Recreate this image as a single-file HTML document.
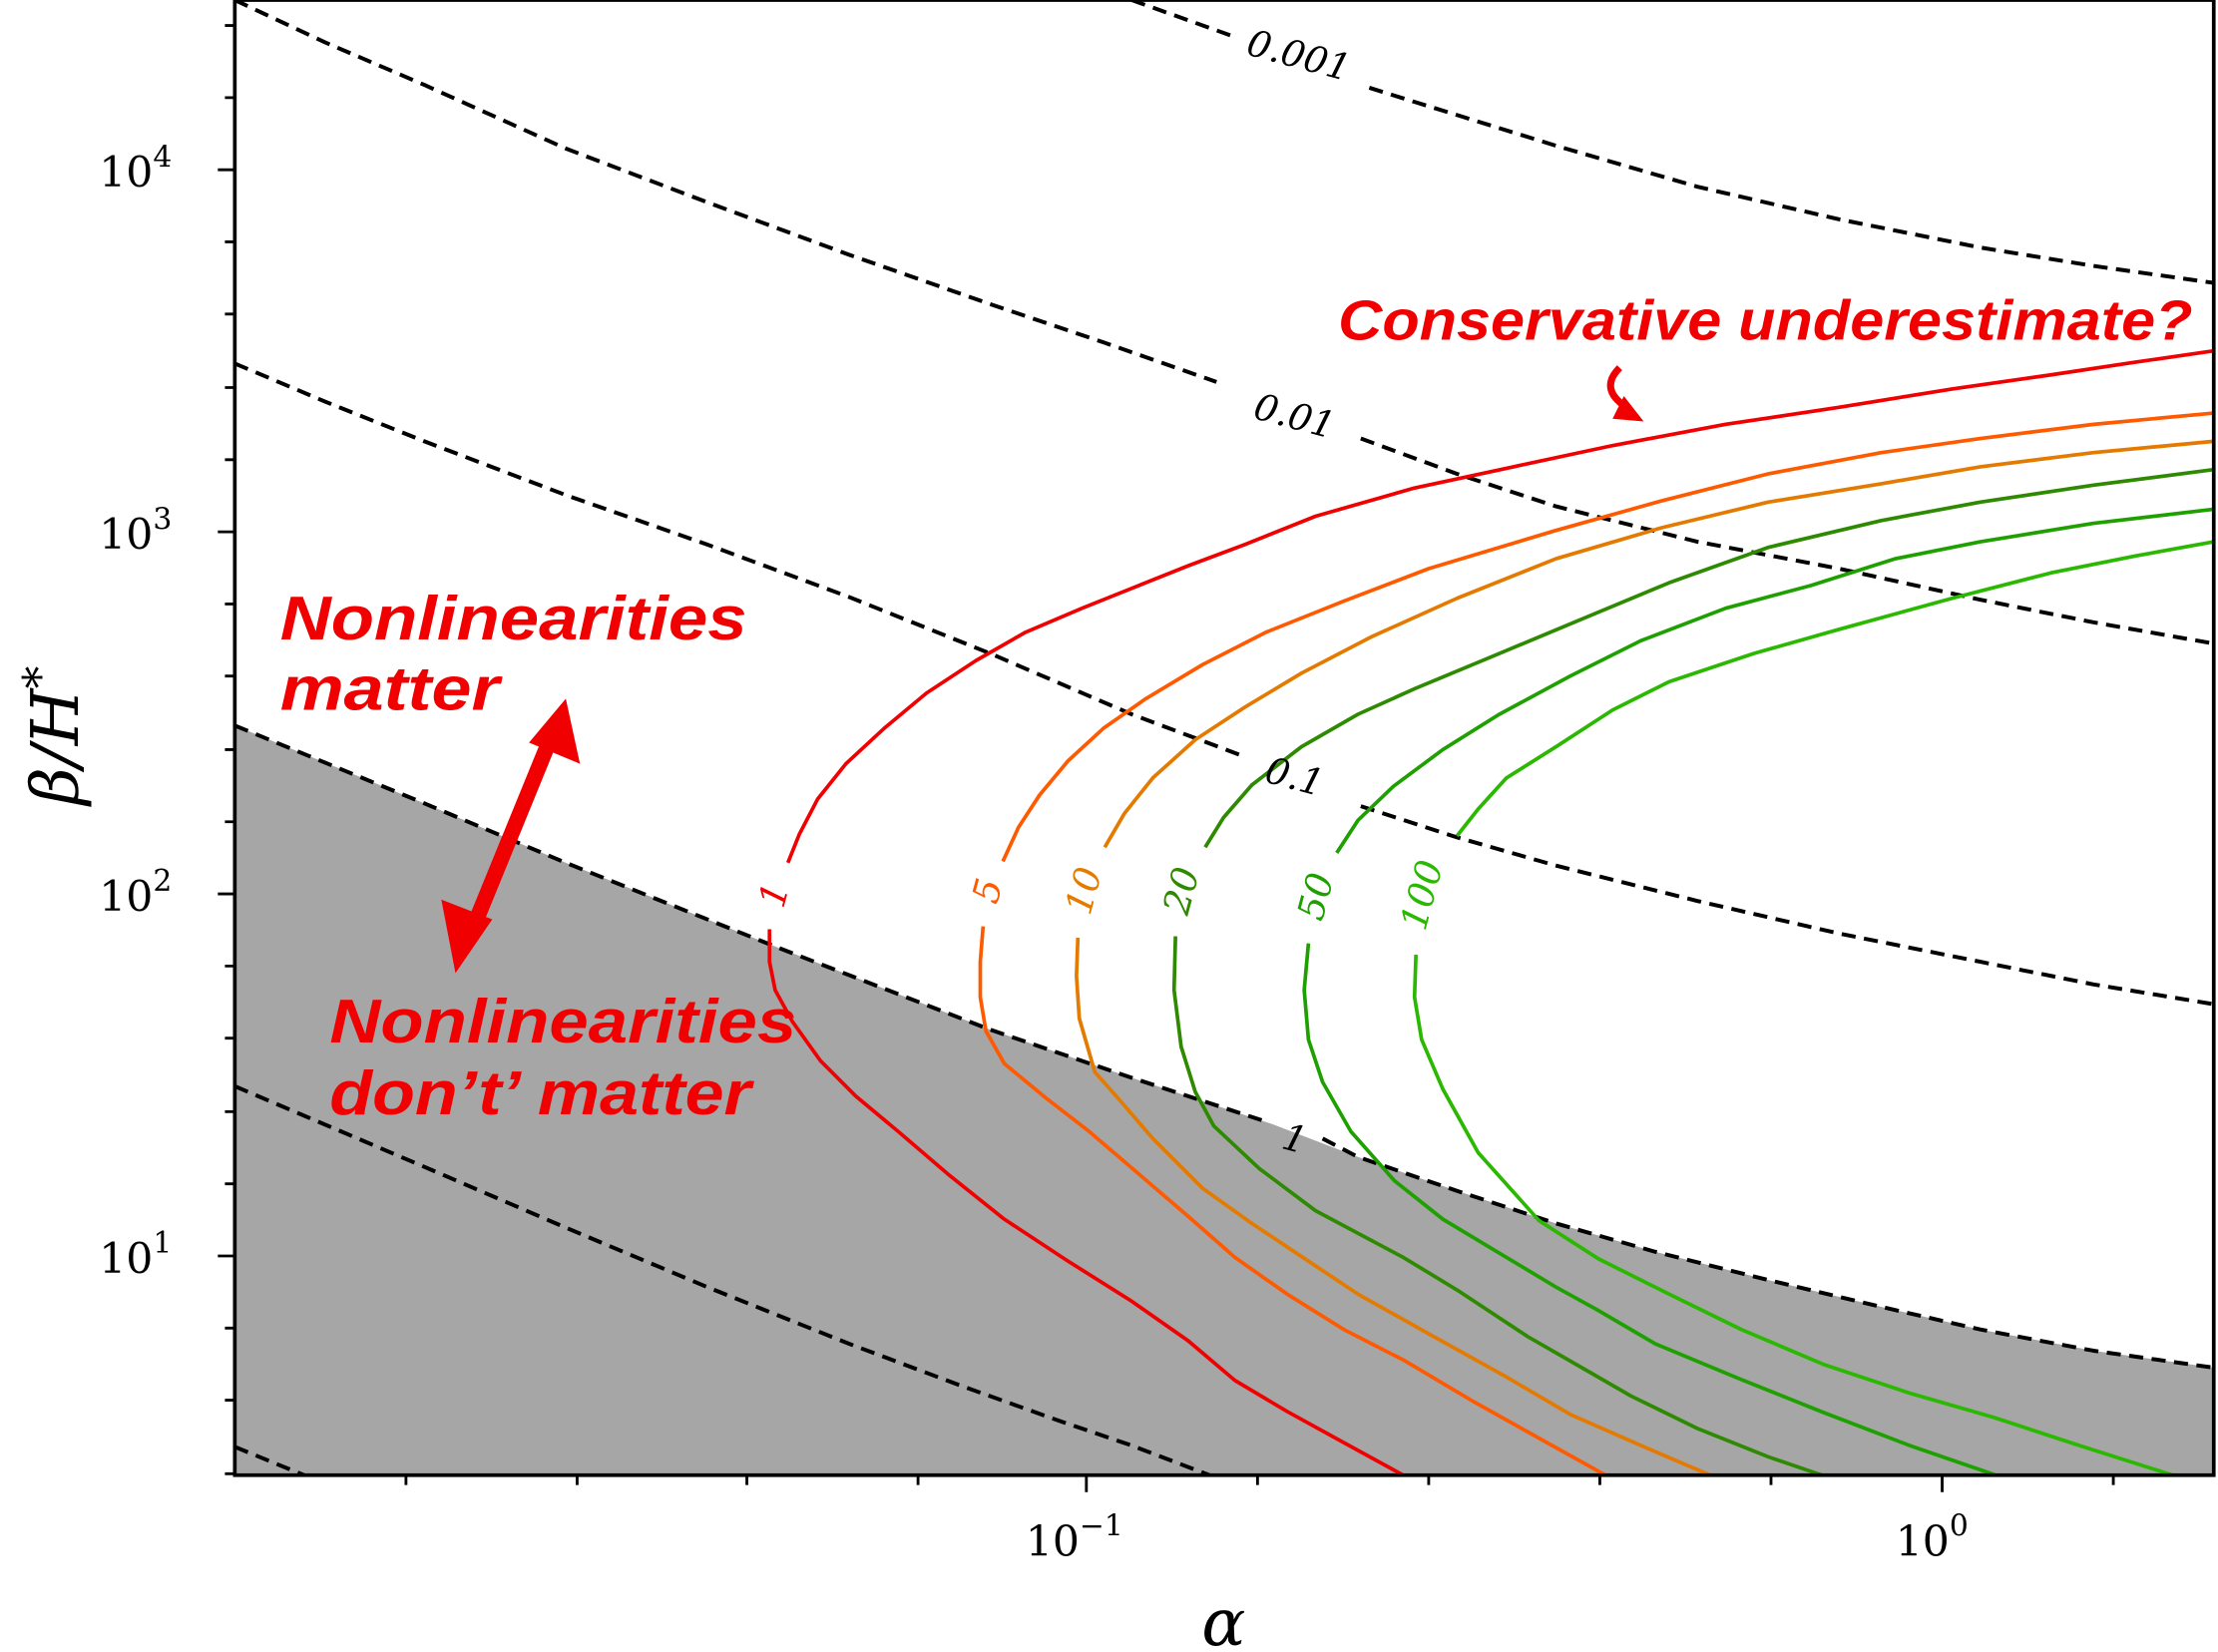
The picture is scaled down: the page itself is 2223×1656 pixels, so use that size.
<!DOCTYPE html>
<html><head><meta charset="utf-8"><style>
html,body{margin:0;padding:0;background:#fff;}
svg{display:block;}
</style></head><body>
<svg width="2223" height="1656" viewBox="0 0 1568 1168" xmlns="http://www.w3.org/2000/svg">
<defs><clipPath id="c"><rect x="166" y="0" width="1399" height="1043"/></clipPath></defs>
<g clip-path="url(#c)">
<polygon fill="#a6a6a6" points="166,513 300,568 400,610 550,670 700,728 800,762 900,795 960,818 1030,842 1100,865 1170,885 1250,905 1330,924 1400,940 1480,955 1565,967 1565,1043 166,1043"/>
<g fill="none" stroke="#000" stroke-width="2.8" stroke-dasharray="10,6" stroke-linejoin="round">
<polyline points="800,0 870,25"/>
<polyline points="968,62 1000,72 1100,103 1200,132 1300,155 1400,175 1480,188 1565,200"/>
<polyline points="166,0 230,30 300,60 400,105 500,143 600,180 700,215 780,242 860,270"/>
<polyline points="962,310 1030,335 1100,358 1200,383 1300,402 1400,424 1480,440 1565,455"/>
<polyline points="166,257 230,284 300,312 400,350 500,385 600,422 700,462 800,505 880,535"/>
<polyline points="962,570 1030,592 1100,612 1200,637 1300,660 1400,680 1480,696 1565,710"/>
<polyline points="166,513 300,568 400,610 550,670 700,728 800,762 895,793"/>
<polyline points="935,805 960,818 1030,842 1100,865 1170,885 1250,905 1330,924 1400,940 1480,955 1565,967"/>
<polyline points="166,768 300,825 400,868 500,910 600,950 680,980 750,1005 800,1022 855,1043"/>
<polyline points="166,1023 215,1043"/>
</g>
<g fill="none" stroke-width="2.6" stroke-linejoin="round">
<polyline stroke="#f00000" points="557,610 565,590 578,565 598,540 625,515 655,490 690,467 725,447 765,430 800,416 840,400 880,385 930,365 1000,345 1070,330 1140,315 1220,300 1300,288 1380,275 1450,265 1510,256 1565,248"/>
<polyline stroke="#f00000" points="544,657 544,680 548,700 560,722 580,750 605,775 635,800 670,830 710,862 754,891 800,920 840,948 873,976 910,998 950,1020 992,1043"/>
<polyline stroke="#ff5a00" points="709,609 720,585 735,562 755,538 780,515 810,494 850,470 895,447 950,425 1010,402 1100,375 1175,354 1250,335 1330,320 1400,310 1480,300 1565,292"/>
<polyline stroke="#ff5a00" points="695,655 693,680 693,705 697,729 710,752 739,776 770,800 805,830 840,860 873,889 910,915 950,940 993,962 1040,990 1090,1018 1135,1043"/>
<polyline stroke="#e47a00" points="781,599 795,575 815,550 845,523 880,500 920,476 970,450 1030,423 1100,395 1175,373 1250,355 1330,342 1400,330 1480,320 1565,312"/>
<polyline stroke="#e47a00" points="762,663 761,690 763,720 774,758 790,776 815,805 850,840 885,865 921,889 960,915 1010,943 1064,973 1110,1000 1160,1022 1209,1043"/>
<polyline stroke="#2e8a00" points="852,599 865,578 885,555 920,528 960,505 1000,487 1060,462 1120,437 1180,412 1250,387 1330,368 1400,355 1480,343 1565,332"/>
<polyline stroke="#2e8a00" points="831,662 830,700 835,740 845,772 858,796 890,826 930,856 992,889 1030,912 1080,945 1120,968 1153,987 1200,1010 1250,1030 1288,1043"/>
<polyline stroke="#1ea000" points="945,603 960,580 985,556 1020,530 1060,505 1110,478 1160,453 1220,430 1280,414 1340,395 1400,383 1480,370 1565,360"/>
<polyline stroke="#1ea000" points="925,667 922,700 925,735 935,765 955,800 986,835 1020,862 1060,886 1100,910 1129,926 1170,950 1230,975 1290,999 1350,1022 1411,1043"/>
<polyline stroke="#2ab800" points="1030,591 1045,572 1065,550 1100,528 1140,502 1180,482 1240,462 1300,445 1380,423 1450,405 1510,393 1565,383"/>
<polyline stroke="#2ab800" points="1001,675 1000,705 1005,735 1020,770 1045,815 1088,863 1130,890 1180,915 1231,940 1290,965 1350,985 1409,1002 1470,1022 1536,1043"/>
</g>
</g>
<g font-family="'DejaVu Serif','Liberation Serif',serif" font-style="italic" font-size="26" text-anchor="middle">
<text x="918" y="48" transform="rotate(15 918 40)">0.001</text>
<text x="915" y="303" transform="rotate(15 915 295)">0.01</text>
<text x="915" y="558" transform="rotate(15 915 550)">0.1</text>
<text x="915" y="814" transform="rotate(15 915 806)">1</text>
<text fill="#f00000" x="548" y="641" transform="rotate(-75 548 633)">1</text>
<text fill="#ff5a00" x="699" y="638" transform="rotate(-75 699 630)">5</text>
<text fill="#e47a00" x="767" y="638" transform="rotate(-75 767 630)">10</text>
<text fill="#2e8a00" x="836" y="638" transform="rotate(-75 836 630)">20</text>
<text fill="#1ea000" x="931" y="642" transform="rotate(-75 931 634)">50</text>
<text fill="#2ab800" x="1006" y="641" transform="rotate(-75 1006 633)">100</text>
</g>
<rect x="166" y="0" width="1399" height="1043" fill="none" stroke="#000" stroke-width="2.6"/>
<g stroke="#000" stroke-width="2">
<path d="M166,120h-12M166,376h-12M166,632h-12M166,888h-12M768,1043v12M1373,1043v12"/>
<path d="M166,18h-7M166,69h-7M166,171h-7M166,222h-7M166,274h-7M166,325h-7M166,427h-7M166,478h-7M166,530h-7M166,581h-7M166,683h-7M166,734h-7M166,786h-7M166,837h-7M166,939h-7M166,990h-7M166,1042h-7"/>
<path d="M287,1043v7M408,1043v7M528,1043v7M649,1043v7M889,1043v7M1010,1043v7M1131,1043v7M1252,1043v7M1494,1043v7"/>
</g>
<g font-family="'DejaVu Serif','Liberation Serif',serif" font-size="30" fill="#000">
<text x="70" y="132">10<tspan font-size="21" dy="-14">4</tspan></text>
<text x="70" y="388">10<tspan font-size="21" dy="-14">3</tspan></text>
<text x="70" y="644">10<tspan font-size="21" dy="-14">2</tspan></text>
<text x="70" y="900">10<tspan font-size="21" dy="-14">1</tspan></text>
<text x="725" y="1100">10<tspan font-size="21" dy="-14">−1</tspan></text>
<text x="1340" y="1100">10<tspan font-size="21" dy="-14">0</tspan></text>
<text x="865" y="1163" font-size="46" font-style="italic" text-anchor="middle">α</text>
<text x="0" y="0" font-size="46" font-style="italic" text-anchor="middle" transform="translate(55,520) rotate(-90)">β/H<tspan font-size="32" dy="-16">*</tspan></text>
</g>
<g font-family="'Liberation Sans',sans-serif" font-weight="bold" font-style="italic" fill="#f00000">
<text x="198" y="452" font-size="44" textLength="330" lengthAdjust="spacingAndGlyphs">Nonlinearities</text>
<text x="198" y="502" font-size="44" textLength="155" lengthAdjust="spacingAndGlyphs">matter</text>
<text x="233" y="737" font-size="44" textLength="330" lengthAdjust="spacingAndGlyphs">Nonlinearities</text>
<text x="233" y="788" font-size="44" textLength="298" lengthAdjust="spacingAndGlyphs">don’t’ matter</text>
<text x="946" y="240" font-size="40" textLength="604" lengthAdjust="spacingAndGlyphs">Conservative underestimate?</text>
</g>
<g fill="#f00000" stroke="#f00000">
<line x1="390" y1="520" x2="332" y2="662" stroke-width="11"/>
<polygon points="400,494 410,540 374,525" stroke="none"/>
<polygon points="322,688 348,650 312,636" stroke="none"/>
<path d="M1145,260 q-15,15 5,28" fill="none" stroke-width="5"/>
<polygon points="1162,298 1148,280 1140,296" stroke="none"/>
</g>
</svg>
</body></html>
